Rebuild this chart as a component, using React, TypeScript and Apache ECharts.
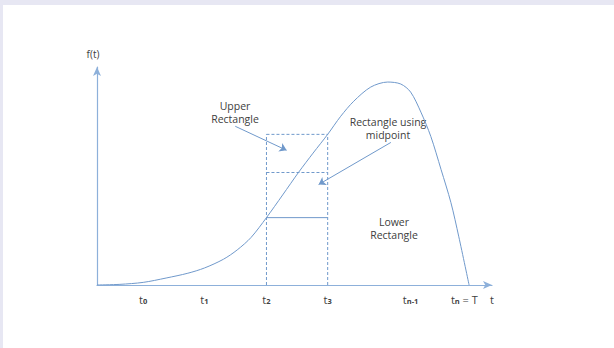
import React, { useEffect, useRef } from "react";
import * as echarts from "echarts";

// curve f(t): [t, f(t)]
const curveT = [0, 0.58, 1.17, 1.75, 2.3, 2.72, 3.2, 3.55, 3.9, 4.29, 4.7, 5.1, 5.47, 5.84, 6.17, 6.5, 6.93, 7.36, 7.69, 7.94, 8.2, 8.45, 8.71, 8.96, 9.16, 9.42];
const curveF = [0, 0.03, 0.12, 0.32, 0.54, 0.78, 1.18, 1.61, 2.18, 3.09, 4.13, 5.16, 6.05, 6.91, 7.74, 8.43, 9.08, 9.31, 9.22, 8.85, 7.93, 6.82, 5.3, 3.78, 2.21, 0];

// tick positions and labels
const tickValues = [1.17, 2.72, 4.29, 5.84, 7.94, 9.3, 10];
const tickLabels = ["{t|t}{s|0}", "{t|t}{s|1}", "{t|t}{s|2}", "{t|t}{s|3}", "{t|t}{s|n-1}", "{t|t}{s|n}{t| = T}", "{t|t}"];

// rectangle on [t2, t3]
const t2 = 4.29;
const t3 = 5.84;
const lowerH = 3.09;
const midH = 5.16;
const upperH = 6.91;

// annotation arrows [from, to]
const arrowUpper = [[3.5, 7.28], [4.8, 6.18]];
const arrowMid = [[7.44, 6.54], [5.61, 4.61]];

// annotation texts (one entry per line)
const notes = ["Upper", "Rectangle", "Rectangle using", "midpoint", "Lower", "Rectangle"];

const CURVE = "#7099cb";
const AXIS = "#8db0da";
const TEXT = "#404040";
const FONT = "Open Sans";

export default function App() {
  const ref = useRef<HTMLDivElement>(null);
  useEffect(() => {
    if (!ref.current) return;
    const chart = echarts.init(ref.current, null, { renderer: "svg" });
    const seg = (pts: number[][], dashed: boolean) => ({
      type: "line",
      data: pts,
      symbol: "none",
      silent: true,
      lineStyle: { color: CURVE, width: 1, type: dashed ? [3, 2] : "solid" },
      z: 3,
    });
    const note = (text: string, x: number, y: number) => ({
      type: "text",
      x,
      y,
      style: { text, align: "center", verticalAlign: "middle", fontFamily: FONT, fontSize: 10.5, lineHeight: 12, fill: TEXT },
    });
    chart.setOption({
      animation: false,
      backgroundColor: "#ffffff",
      grid: { left: 97, right: 122, top: 67, bottom: 63 },
      xAxis: {
        type: "value",
        min: 0,
        max: 10,
        splitLine: { show: false },
        axisTick: { show: false },
        axisLine: { lineStyle: { color: AXIS, width: 1.2 }, symbol: ["none", "arrow"], symbolSize: [6, 9] },
        axisLabel: {
          customValues: tickValues,
          margin: 6,
          formatter: (v: number) => {
            const i = tickValues.findIndex((x) => Math.abs(x - v) < 1e-6);
            return i >= 0 ? tickLabels[i] : "";
          },
          rich: {
            t: { fontFamily: FONT, fontSize: 11, color: TEXT, lineHeight: 14, verticalAlign: "bottom" },
            s: { fontFamily: FONT, fontSize: 7.5, color: TEXT, lineHeight: 11, verticalAlign: "bottom", fontWeight: "bold" },
          },
        },
      },
      yAxis: {
        type: "value",
        min: 0,
        max: 10,
        name: "f(t)",
        nameLocation: "end",
        nameGap: 8,
        nameTextStyle: { fontFamily: FONT, fontSize: 10, color: TEXT, padding: [0, 8, 0, 0] },
        splitLine: { show: false },
        axisTick: { show: false },
        axisLabel: { show: false },
        axisLine: { lineStyle: { color: AXIS, width: 1.2 }, symbol: ["none", "arrow"], symbolSize: [6, 9] },
      },
      series: [
        {
          type: "line",
          data: curveT.map((t, i) => [t, curveF[i]]),
          smooth: 0.3,
          symbol: "none",
          lineStyle: { color: CURVE, width: 1 },
          z: 4,
        },
        seg([[t2, 0], [t2, upperH]], true),
        seg([[t3, 0], [t3, upperH]], true),
        seg([[t2, upperH], [t3, upperH]], true),
        seg([[t2, midH], [t3, midH]], true),
        seg([[t2, lowerH], [t3, lowerH]], false),
        {
          type: "lines",
          coordinateSystem: "cartesian2d",
          symbol: ["none", "arrow"],
          symbolSize: 7,
          lineStyle: { color: CURVE, width: 1, opacity: 1 },
          data: [{ coords: arrowUpper }, { coords: arrowMid }],
          z: 5,
        },
      ],
      graphic: [
        { type: "rect", shape: { x: 0, y: 0, width: 614, height: 5 }, style: { fill: "#e7e7f3" }, silent: true },
        { type: "rect", shape: { x: 0, y: 0, width: 3, height: 348 }, style: { fill: "#e7e7f3" }, silent: true },
        note(notes[0], 235, 105.5),
        note(notes[1], 235, 119),
        note(notes[2], 388, 121.5),
        note(notes[3], 388, 135),
        note(notes[4], 394, 221.5),
        note(notes[5], 394, 235),
      ],
    });
    return () => chart.dispose();
  }, []);
  return (
    <div
      ref={ref}
      style={{ position: "fixed", left: 0, top: 0, width: 614, height: 348, background: "#fff" }}
    />
  );
}
